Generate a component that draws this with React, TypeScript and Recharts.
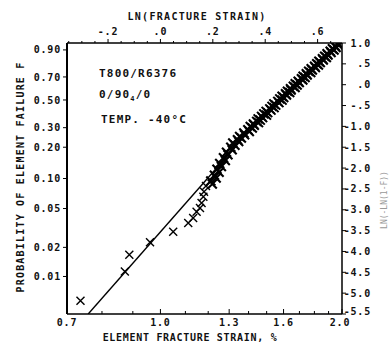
import { ScatterChart, Scatter, XAxis, YAxis } from "recharts";

// points are [element fracture strain %, ln(-ln(1-F))]
const tailPoints: [number, number][] = [
  [0.737, -5.18], [0.873, -4.48], [0.888, -4.08], [0.961, -3.78], [1.05, -3.53],
  [1.112, -3.32], [1.133, -3.2], [1.148, -3.05], [1.163, -2.96], [1.17, -2.84],
  [1.178, -2.69], [1.181, -2.57], [1.19, -2.43],
];

const bandLow: [number, number][] = [
  [1.219, -2.38], [1.212, -2.31], [1.237, -2.24], [1.229, -2.17], [1.251, -2.1],
  [1.241, -2.03], [1.262, -1.96], [1.254, -1.89], [1.281, -1.82], [1.272, -1.75],
  [1.294, -1.68], [1.287, -1.62], [1.315, -1.56], [1.308, -1.5], [1.329, -1.45],
];

const bandHigh: [number, number][] = [
  [1.318, -1.4], [1.348, -1.36], [1.342, -1.32], [1.362, -1.28], [1.353, -1.24],
  [1.379, -1.2], [1.375, -1.16], [1.404, -1.12], [1.396, -1.08], [1.42, -1.04],
  [1.409, -1.0], [1.431, -0.97], [1.426, -0.94], [1.454, -0.91], [1.444, -0.88],
  [1.464, -0.85], [1.452, -0.82], [1.477, -0.79], [1.471, -0.76], [1.499, -0.73],
  [1.484, -0.7], [1.506, -0.67], [1.497, -0.64], [1.525, -0.61], [1.518, -0.58],
  [1.543, -0.55], [1.531, -0.52], [1.553, -0.49], [1.542, -0.46], [1.572, -0.43],
  [1.565, -0.4], [1.591, -0.37], [1.577, -0.34], [1.601, -0.31], [1.591, -0.28],
  [1.618, -0.25], [1.612, -0.22], [1.638, -0.19], [1.624, -0.16], [1.647, -0.13],
  [1.643, -0.1], [1.672, -0.07], [1.661, -0.04], [1.685, -0.01], [1.673, 0.02],
  [1.699, 0.05], [1.692, 0.08], [1.722, 0.11], [1.713, 0.14], [1.737, 0.17],
  [1.724, 0.2], [1.751, 0.23], [1.745, 0.26], [1.775, 0.29], [1.761, 0.32],
  [1.786, 0.35], [1.778, 0.38], [1.807, 0.41], [1.801, 0.44], [1.828, 0.47],
  [1.816, 0.5], [1.841, 0.53], [1.831, 0.56], [1.862, 0.59], [1.856, 0.62],
  [1.884, 0.65], [1.872, 0.68], [1.896, 0.71], [1.889, 0.74], [1.918, 0.77],
  [1.912, 0.8], [1.94, 0.83], [1.928, 0.86], [1.955, 0.89], [1.95, 0.92],
  [1.974, 0.95], [1.972, 0.98],
];

const fitLine: [number, number][] = [[0.759, -5.5], [1.386, -1.2]];

const strainTicks = [0.7, 0.8, 0.9, 1.0, 1.1, 1.2, 1.3, 1.4, 1.5, 1.6, 1.7, 1.8, 1.9, 2.0];
const strainLabels = [0.7, 1.0, 1.3, 1.6, 2.0];
const lnTicks = [-0.35, -0.3, -0.25, -0.2, -0.15, -0.1, -0.05, 0, 0.05, 0.1, 0.15, 0.2, 0.25, 0.3, 0.35, 0.4, 0.45, 0.5, 0.55, 0.6, 0.65];
const lnLabels = [-0.2, 0, 0.2, 0.4, 0.6];
const probTicks = [0.01, 0.02, 0.05, 0.1, 0.2, 0.3, 0.5, 0.7, 0.9];
const weibullTicks = [-5.5, -5, -4.5, -4, -3.5, -3, -2.5, -2, -1.5, -1, -0.5, 0, 0.5, 1];

const toXY = (pts: [number, number][]) => pts.map(([s, w]) => ({ x: Math.log(s), y: w }));
const weib = (f: number) => Math.log(-Math.log(1 - f));

const font = '"DejaVu Sans Mono", monospace';
const tickStyle = { fontFamily: font, fontSize: 10, fontWeight: 700, letterSpacing: 0.8, fill: "#111" };

const makeX = (r: number, w: number) => (p: any) => {
  const { cx, cy } = p;
  return (
    <path
      d={`M${cx - r},${cy - r}L${cx + r},${cy + r}M${cx - r},${cy + r}L${cx + r},${cy - r}`}
      stroke="#000"
      strokeWidth={w}
      fill="none"
    />
  );
};
const TailMark = makeX(4, 1.4);
const BandMark = makeX(4.5, 2.1);

const near = (a: number, list: number[]) => list.some((b) => Math.abs(a - b) < 1e-6);

const BottomTick = (p: any) => {
  const s = Math.round(Math.exp(p.payload.value) * 10) / 10;
  const major = near(s, strainLabels);
  return (
    <g>
      <line x1={p.x} x2={p.x} y1={p.y} y2={p.y - (major ? 5 : 3)} stroke="#000" />
      {major && (
        <text x={s === 2 ? p.x - 2 : p.x} y={p.y + 12} textAnchor="middle" style={tickStyle}>
          {s.toFixed(1)}
        </text>
      )}
    </g>
  );
};

const TopTick = (p: any) => {
  const v = p.payload.value;
  const major = near(v, lnLabels);
  const label = (v < 0 ? "-" : "") + "." + Math.round(Math.abs(v) * 10);
  return (
    <g>
      <line x1={p.x} x2={p.x} y1={p.y} y2={p.y - (major ? 4 : 2)} stroke="#000" />
      {major && (
        <text x={p.x} y={p.y - 8} textAnchor="middle" style={tickStyle}>
          {label}
        </text>
      )}
    </g>
  );
};

const RightTick = (p: any) => {
  const v = p.payload.value;
  const label =
    Math.abs(v) < 1 ? (v < 0 ? "-" : "") + "." + Math.round(Math.abs(v) * 10) : v.toFixed(1);
  return (
    <g>
      <line x1={p.x} x2={p.x + 4} y1={p.y} y2={p.y} stroke="#000" />
      <text x={p.x + 29} y={v === -5.5 ? p.y - 3 : p.y} dy="0.35em" textAnchor="end" style={tickStyle}>
        {label}
      </text>
    </g>
  );
};

const xDomain = [Math.log(0.7), Math.log(2.0)];

export default function App() {
  return (
    <div style={{ position: "absolute", left: 0, top: 0, width: 389, height: 347, background: "#fff" }}>
      <ScatterChart width={389} height={347} margin={{ top: 0, right: 0, bottom: 0, left: 0 }}>
        <XAxis
          xAxisId="bottom"
          type="number"
          dataKey="x"
          domain={xDomain}
          allowDataOverflow
          ticks={strainTicks.map((s) => Math.log(s))}
          interval={0}
          height={33}
          tickSize={0}
          tickMargin={0}
          tickLine={false}
          tick={BottomTick}
          axisLine={{ stroke: "#000", strokeWidth: 1.5 }}
        />
        <XAxis
          xAxisId="top"
          orientation="top"
          type="number"
          dataKey="x"
          domain={xDomain}
          allowDataOverflow
          ticks={lnTicks}
          interval={0}
          height={43}
          tickSize={0}
          tickMargin={0}
          tickLine={false}
          tick={TopTick}
          axisLine={{ stroke: "#000", strokeWidth: 1.5 }}
        />
        <YAxis
          yAxisId="left"
          type="number"
          dataKey="y"
          domain={[-5.5, 1]}
          allowDataOverflow
          ticks={probTicks.map(weib)}
          interval={0}
          width={67}
          tickSize={4}
          tickFormatter={(v: number) => (1 - Math.exp(-Math.exp(v))).toFixed(2)}
          tick={tickStyle}
          tickLine={{ stroke: "#000" }}
          axisLine={{ stroke: "#000", strokeWidth: 2 }}
        />
        <YAxis
          yAxisId="right"
          orientation="right"
          type="number"
          dataKey="y"
          domain={[-5.5, 1]}
          allowDataOverflow
          ticks={weibullTicks}
          interval={0}
          width={47}
          tickSize={0}
          tickMargin={0}
          tickLine={false}
          tick={RightTick}
          axisLine={{ stroke: "#000", strokeWidth: 1.5 }}
        />
        <Scatter
          xAxisId="top"
          yAxisId="right"
          data={toXY(fitLine)}
          shape={() => <g />}
          isAnimationActive={false}
        />
        <Scatter
          xAxisId="bottom"
          yAxisId="left"
          data={toXY(fitLine)}
          line={{ stroke: "#000", strokeWidth: 1.4 }}
          shape={() => <g />}
          isAnimationActive={false}
        />
        <Scatter xAxisId="bottom" yAxisId="left" data={toXY(tailPoints)} shape={TailMark} isAnimationActive={false} />
        <Scatter xAxisId="bottom" yAxisId="left" data={toXY(bandLow)} shape={BandMark} isAnimationActive={false} />
        <Scatter xAxisId="bottom" yAxisId="left" data={toXY(bandHigh)} shape={BandMark} isAnimationActive={false} />
      </ScatterChart>
      <svg width={389} height={347} style={{ position: "absolute", left: 0, top: 0, pointerEvents: "none" }}>
        <g style={{ fontFamily: font, fontWeight: 700, fill: "#111" }}>
          <text x={197} y={20} textAnchor="middle" fontSize={10} letterSpacing={1.3}>
            LN(FRACTURE STRAIN)
          </text>
          <text transform="translate(24,177) rotate(-90)" textAnchor="middle" fontSize={10} letterSpacing={1.2}>
            PROBABILITY OF ELEMENT FAILURE F
          </text>
          <text x={190} y={341} textAnchor="middle" fontSize={10} letterSpacing={0.7}>
            ELEMENT FRACTURE STRAIN, %
          </text>
          <text x={99} y={77} fontSize={11} letterSpacing={1.2}>
            T800/R6376
          </text>
          <text x={99} y={98} fontSize={11} letterSpacing={1.2}>
            0/90<tspan fontSize={7} dy={3}>4</tspan>
            <tspan dy={-3}>/0</tspan>
          </text>
          <text x={101} y={123} fontSize={11} letterSpacing={1.2}>
            TEMP. -40°C
          </text>
          <text
            transform="translate(387,200) rotate(-90)"
            textAnchor="middle"
            fontSize={8}
            fontWeight={400}
            fill="#999"
          >
            LN(-LN(1-F))
          </text>
        </g>
      </svg>
    </div>
  );
}
